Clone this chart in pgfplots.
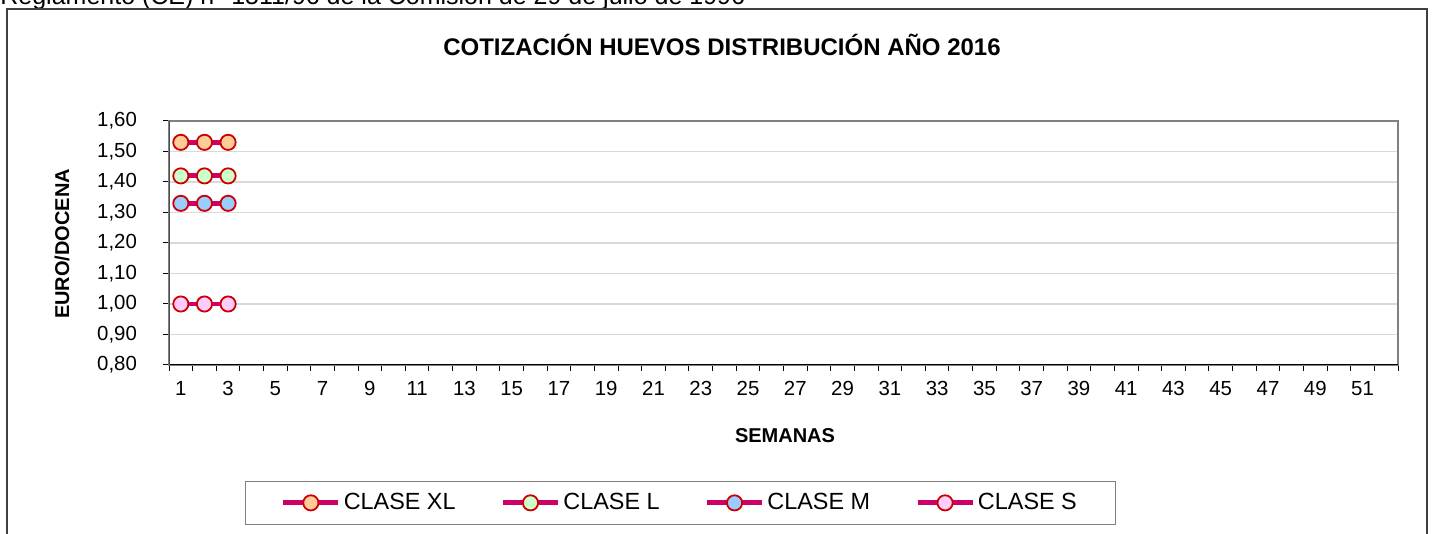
\documentclass[border=0pt]{standalone}
\usepackage{fontspec}
\setmainfont{Liberation Sans}
\usepackage{pgfplots}
\pgfplotsset{compat=1.18}
\definecolor{lineC}{HTML}{CC0066}
\definecolor{edgeC}{HTML}{CC0000}
\definecolor{xlC}{HTML}{FFCC99}
\definecolor{lC}{HTML}{CCFFCC}
\definecolor{mC}{HTML}{99CCFF}
\definecolor{sC}{HTML}{FFCCFF}
\definecolor{gridC}{HTML}{D9D9D9}
\definecolor{frameC}{HTML}{808080}
\begin{document}
\begin{tikzpicture}
\path[use as bounding box] (0,0) rectangle (716.5pt,267pt);
\clip (0,0) rectangle (716.5pt,267pt);
\fill[white] (0,0) rectangle (716.5pt,267pt);
\node[anchor=base west, inner sep=0pt, font=\fontsize{12.5}{15}\selectfont] at (0pt,264.5pt) {Reglamento (CE) n° 1511/96 de la Comisión de 29 de julio de 1996};
\draw[black!75, line width=0.75pt] (3.5pt,-5pt) -- (3.5pt,262.5pt) -- (713.5pt,262.5pt) -- (713.5pt,-5pt);
\node[anchor=base, inner sep=0pt, font=\bfseries\fontsize{12}{14}\selectfont] at (361pt,239.3pt) {COTIZACIÓN HUEVOS DISTRIBUCIÓN AÑO 2016};
\node[anchor=base, inner sep=0pt, font=\bfseries\fontsize{10}{12}\selectfont] at (392.5pt,45.5pt) {SEMANAS};
\node[anchor=center, rotate=90, inner sep=0pt, font=\bfseries\fontsize{10}{12}\selectfont] at (31pt,145pt) {EURO/DOCENA};
\begin{axis}[
  at={(84.5pt,84.5pt)}, anchor=south west,
  width=614.5pt, height=122pt, scale only axis,
  xmin=0.5, xmax=52.5, ymin=0.8, ymax=1.6,
  xtick={1,3,...,51},
  minor xtick={0.5,1.5,...,52.5},
  ytick={0.8,0.9,1.0,1.1,1.2,1.3,1.4,1.5,1.6},
  minor ytick={0.8,0.9,1.0,1.1,1.2,1.3,1.4,1.5,1.6},
  major tick length=0pt, minor tick length=3pt,
  tick align=outside,
  xtick pos=bottom, ytick pos=left,
  tick style={black, line width=0.5pt},
  ymajorgrids, grid style={gridC, line width=0.6pt},
  axis line style={frameC, line width=1pt},
  /pgf/number format/assume math mode=true,
  tick label style={font=\fontsize{10.2}{12}\selectfont},
  yticklabel={\pgfmathprintnumber[fixed,fixed zerofill,precision=2,use comma]{\tick}},
  yticklabel style={xshift=-12.5pt},
  xticklabel style={yshift=-4.5pt},
  legend columns=4,
  legend cell align=left,
  legend style={at={(0.4161,-0.565)}, anchor=center, draw=frameC, line width=0.6pt,
    font=\fontsize{11.7}{14}\selectfont, inner xsep=17.75pt, inner ysep=4pt,
    nodes={inner xsep=1.5pt, inner ysep=2pt},
    /tikz/every even column/.append style={column sep=21pt}},
  legend image code/.code={\draw[mark repeat=2,mark phase=2,#1] plot coordinates {(0pt,0pt) (13.75pt,0pt) (27.5pt,0pt)};},
]
\addplot[color=lineC, line width=2.4pt, mark=*, mark size=3.8pt, mark options={draw=edgeC, fill=xlC, line width=0.9pt, solid}] coordinates {(1,1.53) (2,1.53) (3,1.53)};
\addlegendentry{CLASE XL}
\addplot[color=lineC, line width=2.4pt, mark=*, mark size=3.8pt, mark options={draw=edgeC, fill=lC, line width=0.9pt, solid}] coordinates {(1,1.42) (2,1.42) (3,1.42)};
\addlegendentry{CLASE L}
\addplot[color=lineC, line width=2.4pt, mark=*, mark size=3.8pt, mark options={draw=edgeC, fill=mC, line width=0.9pt, solid}] coordinates {(1,1.33) (2,1.33) (3,1.33)};
\addlegendentry{CLASE M}
\addplot[color=lineC, line width=2.4pt, mark=*, mark size=3.8pt, mark options={draw=edgeC, fill=sC, line width=0.9pt, solid}] coordinates {(1,1.00) (2,1.00) (3,1.00)};
\addlegendentry{CLASE S}
\draw[black, line width=0.8pt] (rel axis cs:0,0) -- (rel axis cs:1,0);
\draw[black!70, line width=1pt] (rel axis cs:0,0) -- (rel axis cs:0,1);
\end{axis}
\end{tikzpicture}
\end{document}
